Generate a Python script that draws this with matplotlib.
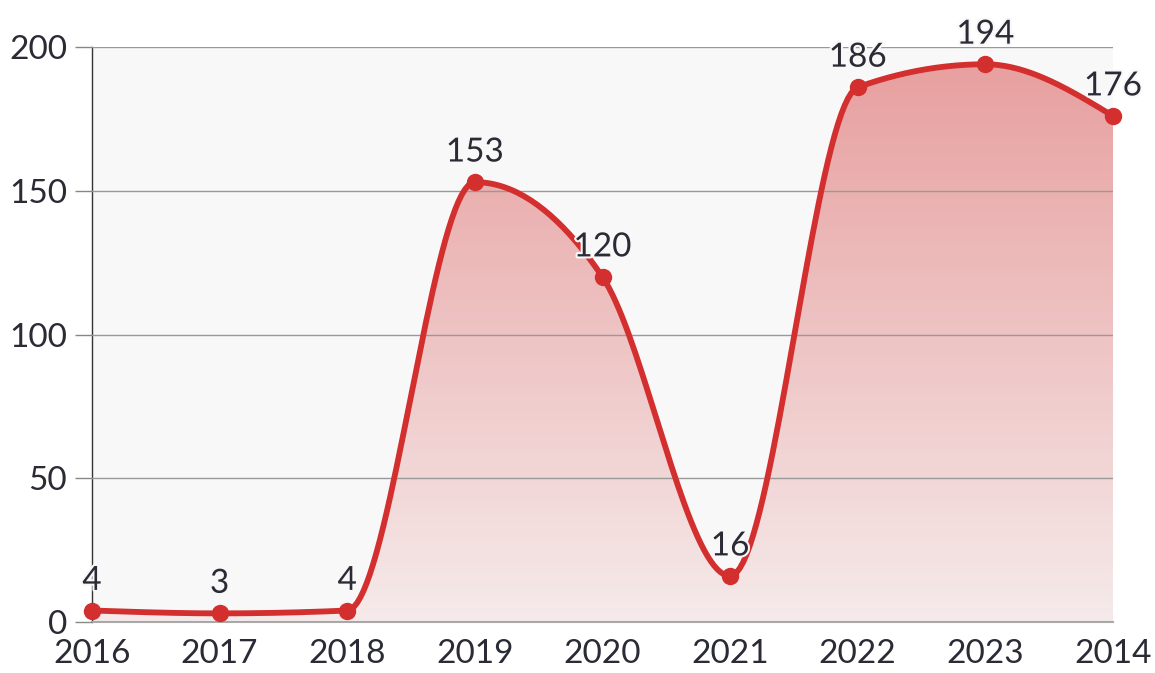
import numpy as np
import matplotlib
matplotlib.use('Agg')
from matplotlib import pyplot as plt
from matplotlib import patheffects as pe
from matplotlib.colors import LinearSegmentedColormap

years = ['2016', '2017', '2018', '2019', '2020', '2021', '2022', '2023', '2014']
counts = [4, 3, 4, 153, 120, 16, 186, 194, 176]
yticks = [0, 50, 100, 150, 200]

red = '#d32f2f'
txt = '#2b2b36'
plt.rcParams['font.family'] = ['Lato', 'DejaVu Sans']


def monotone_x(x, y, n=40):
    """ d3 curveMonotoneX style interpolation """
    x = np.asarray(x, float)
    y = np.asarray(y, float)
    h = np.diff(x)
    s = np.diff(y) / h
    m = np.zeros_like(y)
    for i in range(1, len(y) - 1):
        s0, s1 = s[i - 1], s[i]
        p = (s0 * h[i] + s1 * h[i - 1]) / (h[i - 1] + h[i])
        m[i] = (np.sign(s0) + np.sign(s1)) * min(abs(s0), abs(s1), 0.5 * abs(p))
    m[0] = (3 * s[0] - m[1]) / 2
    m[-1] = (3 * s[-1] - m[-2]) / 2
    xs, ys = [], []
    for i in range(len(x) - 1):
        t = np.linspace(0, 1, n)
        dx = h[i]
        p0 = y[i]
        p1 = y[i] + m[i] * dx / 3
        p2 = y[i + 1] - m[i + 1] * dx / 3
        p3 = y[i + 1]
        by = (1 - t)**3 * p0 + 3 * (1 - t)**2 * t * p1 + 3 * (1 - t) * t**2 * p2 + t**3 * p3
        bx = x[i] + t * dx
        xs.append(bx)
        ys.append(by)
    return np.concatenate(xs), np.concatenate(ys)


fig = plt.figure(figsize=(11.55, 6.73), dpi=100)
ax = fig.add_axes([92 / 1155, 51 / 673, (1113 - 92) / 1155, (622 - 47) / 673])
ax.set_facecolor('#f8f8f8')

xpos = np.arange(len(years))
cx, cy = monotone_x(xpos, counts)

# gradient fill under the curve
cmap = LinearSegmentedColormap.from_list(
    'g', [(0.83, 0.18, 0.18, 0.07), (0.83, 0.18, 0.18, 0.45)])
grad = np.linspace(0, 1, 256).reshape(-1, 1)
im = ax.imshow(grad, cmap=cmap, origin='lower', aspect='auto',
               extent=[0, len(years) - 1, 0, 200], zorder=1)
clip = plt.Polygon(np.column_stack([np.r_[cx, cx[-1], cx[0]],
                                    np.r_[cy, 0, 0]]),
                   transform=ax.transData, facecolor='none', edgecolor='none')
ax.add_patch(clip)
im.set_clip_path(clip)

ax.plot(cx, cy, color=red, lw=4.2, zorder=3, solid_capstyle='round')
ax.plot(xpos, counts, 'o', color=red, ms=11.5, zorder=4, clip_on=False)

for xi, v in zip(xpos, counts):
    ax.annotate(str(v), (xi, v), xytext=(0, 10.5), textcoords='offset points',
                ha='center', va='bottom', fontsize=24, color=txt, zorder=5,
                path_effects=[pe.withStroke(linewidth=3, foreground='#f8f8f8')])

ax.set_xlim(0, len(years) - 1)
ax.set_ylim(0, 200)
ax.set_yticks(yticks)
ax.set_xticks(xpos)
ax.set_xticklabels(years)
ax.yaxis.grid(True, color='#999999', lw=1)
ax.set_axisbelow(False)
for line in ax.get_ygridlines():
    line.set_zorder(2)
ax.tick_params(axis='y', length=12, width=1, color='#888888', pad=6,
               labelsize=24, labelcolor=txt)
ax.tick_params(axis='x', length=0, pad=12, labelsize=24, labelcolor=txt)
for side in ['top', 'right']:
    ax.spines[side].set_visible(False)
ax.spines['left'].set_color('#333333')
ax.spines['left'].set_linewidth(1)
ax.spines['bottom'].set_color('#aaaaaa')
ax.spines['bottom'].set_linewidth(1.5)

fig.savefig('out.png', dpi=100)
